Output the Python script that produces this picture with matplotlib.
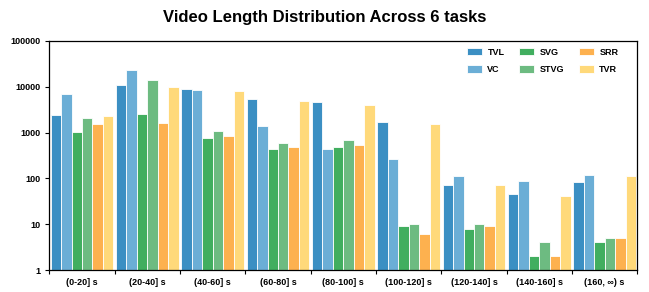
import matplotlib
matplotlib.use("Agg")
import matplotlib.pyplot as plt
import numpy as np

plt.rcParams['font.family'] = ['Liberation Sans', 'DejaVu Sans']
plt.rcParams['font.weight'] = 'bold'

# length bins
bins = ["(0-20] s", "(20-40] s", "(40-60] s", "(60-80] s", "(80-100] s",
        "(100-120] s", "(120-140] s", "(140-160] s", "(160, \u221e) s"]

# number of videos per task and bin
tvl = [2400, 10800, 8850, 5400, 4550, 1700, 72, 46, 85]
vc = [6900, 23600, 8500, 1370, 440, 260, 114, 88, 118]
svg = [1015, 2580, 750, 445, 485, 9, 8, 2, 4]
stvg = [2130, 14100, 1085, 595, 690, 10, 10, 4, 5]
srr = [1550, 1600, 850, 485, 535, 6, 9, 2, 5]
tvr = [2280, 9900, 8100, 4900, 4050, 1560, 73, 41, 112]

tasks = ["TVL", "VC", "SVG", "STVG", "SRR", "TVR"]
series = [tvl, vc, svg, stvg, srr, tvr]
colors = ['#3B8FC3', '#6BAED6', '#41AE5F', '#6DBB81', '#FDB14F', '#FFD97A']

fig, ax = plt.subplots(figsize=(6.49, 2.92), dpi=100)
fig.subplots_adjust(left=0.076, right=0.982, top=0.86, bottom=0.075)

x = np.arange(len(bins))
w = 0.16
for i, (name, vals, c) in enumerate(zip(tasks, series, colors)):
    ax.bar(x + (i - 2.5) * w, vals, width=w, color=c, edgecolor='white',
           linewidth=0.6, label=name)

ax.set_yscale('log')
ax.set_ylim(1, 100000)
ax.set_yticks([1, 10, 100, 1000, 10000, 100000])
ax.set_yticklabels(['1', '10', '100', '1000', '10000', '100000'])
ax.yaxis.set_minor_locator(matplotlib.ticker.NullLocator())
ax.set_xlim(-0.5, len(bins) - 0.5)

# ticks at group boundaries, labels at centres
ax.set_xticks(np.arange(len(bins) + 1) - 0.5)
ax.set_xticklabels([])
ax.set_xticks(x, minor=True)
ax.set_xticklabels(bins, minor=True)
ax.tick_params(axis='x', which='minor', length=0, pad=6)
ax.tick_params(axis='both', which='major', labelsize=6.5, length=3, width=0.8)
ax.tick_params(axis='x', which='minor', labelsize=6.5)

for s in ax.spines.values():
    s.set_linewidth(0.9)

ax.legend(ncol=3, loc='upper right', bbox_to_anchor=(0.983, 1.009),
          frameon=False, fontsize=6.5, handlelength=1.7, handleheight=0.9,
          handletextpad=0.6, columnspacing=1.6, borderaxespad=0.6,
          labelspacing=0.9)

fig.suptitle("Video Length Distribution Across 6 tasks", fontsize=12,
             fontweight='bold', y=0.967)

fig.savefig("out.png", dpi=100)
